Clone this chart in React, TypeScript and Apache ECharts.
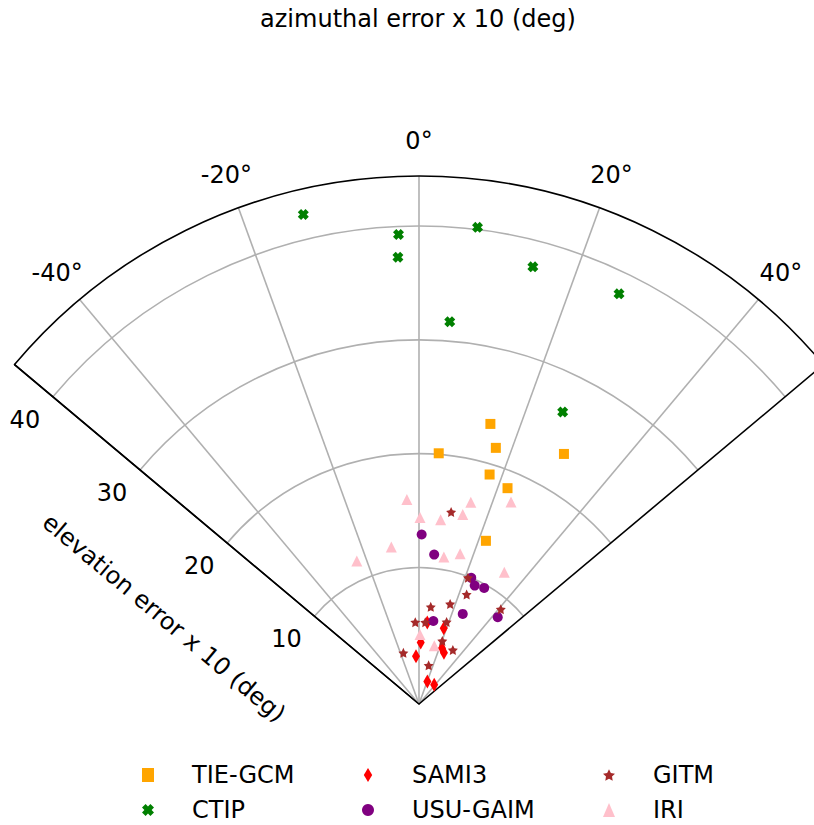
import React, { useEffect, useRef } from 'react';
import * as echarts from 'echarts';

// Each point: [elevation error x 10 (radius), azimuthal error x 10 (angle, deg)]
const tieGcm = [[23.4, 14.3], [21.5, 16.7], [20.1, 4.5], [23.4, 30.1], [19.1, 17.1], [18.5, 22.3], [13.5, 22.3]];
const ctip = [[42.2, -13.3], [39.3, -2.5], [37.3, -2.7], [40.2, 7.0], [37.7, 14.6], [38.1, 26.0], [31.7, 4.6], [26.6, 26.2]];
const sami3 = [[5.2, 5.8], [5.0, 18.1], [3.4, 1.6], [3.3, 22.4], [3.0, 26.0], [2.2, -3.6], [0.1, 20.4], [0.15, 38.4]];
const usuGaim = [[12.9, 0.9], [11.2, 5.8], [10.0, 22.5], [9.5, 25.2], [9.7, 29.3], [6.8, 25.9], [8.3, 42.2], [5.4, 9.8]];
const gitm = [[15.1, 9.5], [9.9, 21.2], [8.5, 23.5], [6.6, 6.9], [7.2, 17.3], [9.0, 40.8], [5.2, -2.6], [5.2, 4.4], [5.6, 18.6], [3.9, 20.3], [3.6, 32.1], [2.7, -17.0], [1.5, 14.0]];
const iri = [[16.0, -3.4], [16.3, 14.4], [17.5, 24.5], [14.4, 0.3], [14.3, 6.7], [15.1, 13.0], [12.0, -10.0], [11.7, -23.5], [11.1, 9.6], [11.7, 15.3], [11.8, 32.9], [4.1, 0.8], [3.3, 14.7]];

const angleTickLabels = [-40, -20, 0, 20, 40];
const radiusTickLabels = [10, 20, 30, 40];
const ANGLE_MIN = -50;
const ANGLE_MAX = 50;
const R_MIN = -2;
const R_MAX = 44.4;

const FONT = 'DejaVu Sans';
const GRID = '#b0b0b0';

const STAR = 'path://M100,0 L129.4,59.5 L195.1,69.1 L147.6,115.5 L158.8,180.9 L100,150 L41.2,180.9 L52.4,115.5 L4.9,69.1 L70.6,59.5 Z';
const XMARK = 'path://M0,3 L3,0 L5,2 L7,0 L10,3 L8,5 L10,7 L7,10 L5,8 L3,10 L0,7 L2,5 Z';
const THIN_DIAMOND = 'path://M6,0 L12,10 L6,20 L0,10 Z';

const seriesDefs = [
  { name: 'TIE-GCM', data: tieGcm, symbol: 'rect', size: 10, color: '#FFA500' },
  { name: 'CTIP', data: ctip, symbol: XMARK, size: 11, color: '#008000' },
  { name: 'SAMI3', data: sami3, symbol: THIN_DIAMOND, size: [8, 14], color: '#FF0000' },
  { name: 'USU-GAIM', data: usuGaim, symbol: 'circle', size: 10, color: '#800080' },
  { name: 'GITM', data: gitm, symbol: STAR, size: 10, color: '#A52A2A' },
  { name: 'IRI', data: iri, symbol: 'triangle', size: 11, color: '#FFC0CB' },
];

const legendColumns = [
  { left: 142, names: ['TIE-GCM', 'CTIP'] },
  { left: 362, names: ['SAMI3', 'USU-GAIM'] },
  { left: 603, names: ['GITM', 'IRI'] },
];

export default function App() {
  const ref = useRef<HTMLDivElement>(null);
  useEffect(() => {
    if (!ref.current) return;
    const chart = echarts.init(ref.current, null, { renderer: 'svg' });
    const iconOf = (n: string) => seriesDefs.find((d) => d.name === n)!.symbol;
    const textStyle = (text: string) => ({ text, fill: '#000', font: `24px "${FONT}"`, textAlign: 'center', textVerticalAlign: 'middle' });
    chart.setOption({
      animation: false,
      backgroundColor: '#ffffff',
      polar: { center: [419, 704], radius: [0, 528] },
      angleAxis: {
        type: 'value',
        min: ANGLE_MIN,
        max: ANGLE_MAX,
        splitNumber: 5,
        startAngle: 140,
        endAngle: 40,
        clockwise: true,
        axisLine: { show: true, lineStyle: { color: '#000', width: 1.6 } },
        axisTick: { show: false },
        axisLabel: { show: false },
        splitLine: {
          show: true,
          lineStyle: { color: ['#000', GRID, GRID, GRID, GRID, GRID, '#000'], width: 1.6 },
        },
      },
      radiusAxis: {
        type: 'value',
        min: R_MIN,
        max: R_MAX,
        splitNumber: 5,
        axisLine: { show: true, lineStyle: { color: '#000', width: 1.6 } },
        axisTick: { show: false },
        axisLabel: { show: false },
        splitLine: {
          show: true,
          lineStyle: { color: ['rgba(0,0,0,0)', 'rgba(0,0,0,0)', GRID, GRID, GRID, GRID, 'rgba(0,0,0,0)'], width: 1.6 },
        },
      },
      legend: legendColumns.map((c) => ({
        orient: 'vertical',
        left: c.left,
        top: 763,
        padding: 0,
        itemGap: 11,
        itemWidth: 12,
        itemHeight: 14,
        symbolKeepAspect: true,
        selectedMode: false,
        textStyle: { color: '#000', fontSize: 24, fontFamily: FONT, padding: [0, 0, 0, 33] },
        data: c.names.map((n) => ({ name: n, icon: iconOf(n) })),
      })),
      series: seriesDefs.map((s, i) => ({
        type: 'scatter',
        name: s.name,
        coordinateSystem: 'polar',
        data: s.data,
        symbol: s.symbol,
        symbolSize: s.size,
        itemStyle: { color: s.color, opacity: 1 },
        z: 2 + i,
      })),
    });

    // Tick labels placed through the polar coordinate system of the chart
    const toPx = (r: number, a: number) => chart.convertToPixel({ polarIndex: 0 } as any, [r, a]) as number[];
    const c = toPx(R_MIN, 0);
    const angleLabels = angleTickLabels.map((a) => {
      const p = toPx(R_MAX, a);
      const dx = p[0] - c[0];
      const dy = p[1] - c[1];
      const len = Math.sqrt(dx * dx + dy * dy);
      return { type: 'text', x: p[0] + (dx / len) * 35, y: p[1] + (dy / len) * 35, style: textStyle(a + '°') };
    });
    const radiusLabels = radiusTickLabels.map((r) => {
      const p = toPx(r, ANGLE_MIN);
      return { type: 'text', x: p[0] - 28, y: p[1] + 23, style: textStyle(String(r)) };
    });
    chart.setOption({
      graphic: [
        { type: 'text', x: 418, y: 19, style: textStyle('azimuthal error x 10 (deg)') },
        { type: 'text', x: 164, y: 618, rotation: (-40 * Math.PI) / 180, style: textStyle('elevation error x 10 (deg)') },
        ...angleLabels,
        ...radiusLabels,
      ],
    });
    return () => chart.dispose();
  }, []);
  return <div ref={ref} style={{ position: 'fixed', left: 0, top: 0, width: 814, height: 825 }} />;
}
